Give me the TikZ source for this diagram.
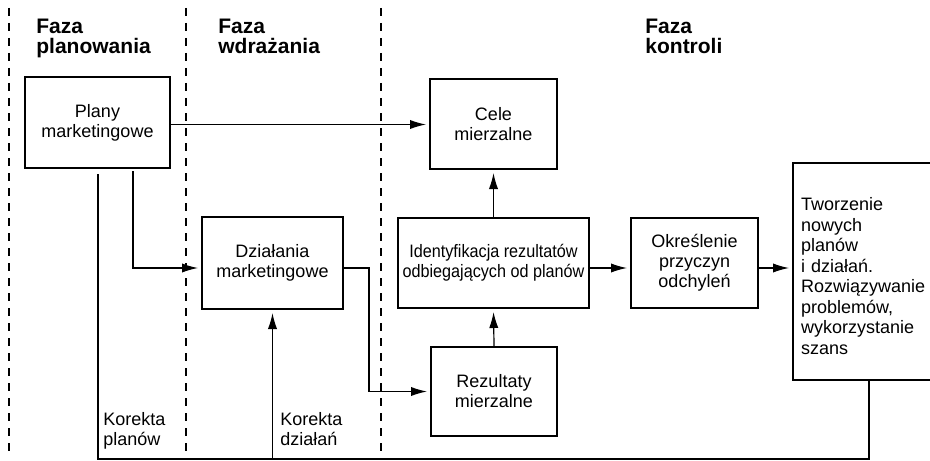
\documentclass[tikz,border=0pt]{standalone}
\usepackage{fontspec}
\setmainfont{Liberation Sans}
\newfontfamily\narrowfont[FakeStretch=0.9]{Liberation Sans}
\usetikzlibrary{positioning,calc,arrows.meta}
\tikzset{font=\fontsize{9}{10}\selectfont}
\tikzset{
box/.style = {draw, line width=1pt, align=center, inner sep=0pt},
heading/.style = {align=left, anchor=north west, inner sep=0pt, font=\fontsize{10.5}{10}\selectfont\bfseries},
note/.style = {align=left, anchor=north west, inner sep=0pt},
arrow/.style = {->, line width=0.6pt, shorten >=1.5pt},
fbline/.style = {line width=1pt},
phaseline/.style = {dash pattern=on 4pt off 3.5pt, line width=1pt}
}

\begin{document}
\begin{tikzpicture}[x=0.5pt, y=-0.5pt, >={Latex[length=8pt,width=4.6pt]}]
	\useasboundingbox (0,0) rectangle (930,460);

	% phase borders
	\foreach \x in {9,186,381}
		\draw[phaseline] (\x,8) -- (\x,453);

	\node[heading] (hplan) at (36,19) {Faza\\planowania};
	\node[heading] (hwdr) at (218,19) {Faza\\wdrażania};
	\node[heading] (hkon) at (645,19) {Faza\\kontroli};

	\node[box, minimum width=72.5pt, minimum height=45.5pt] (plany) at (97.5,122.5) {Plany\\marketingowe};
	\node[box, minimum width=63.5pt, minimum height=45pt] (cele) at (493.5,124) {Cele\\mierzalne};
	\node[box, minimum width=70.5pt, minimum height=46pt] (dzial) at (272.5,263) {Działania\\marketingowe};
	\node[box, minimum width=95.5pt, minimum height=45pt, font=\fontsize{9}{10}\selectfont\narrowfont] (ident) at (493.5,263) {Identyfikacja rezultatów\\odbiegających od planów};
	\node[box, minimum width=63.5pt, minimum height=45pt] (okr) at (694.5,263) {Określenie\\przyczyn\\odchyleń};
	\node[box, minimum width=63pt, minimum height=44.5pt] (rez) at (494,391.5) {Rezultaty\\mierzalne};
	\node[box, anchor=north west, align=left, text width=80pt, inner xsep=4pt, minimum height=108.5pt, font=\fontsize{9}{10.25}\selectfont] (tworz) at (792,162) {\rule{0pt}{11pt}Tworzenie\\nowych\\planów\\i działań.\\Rozwiązywanie\\problemów,\\wykorzystanie\\szans};

	\node[note] (kplan) at (103,412) {Korekta\\planów};
	\node[note] (kdzial) at (280,412) {Korekta\\działań};

	\coordinate (floor) at (0,459);

	\draw[arrow] ([yshift=-1pt]plany.east) -- ([yshift=-1pt]plany.east -| cele.west);
	\draw[arrow] ([xshift=17.75pt, yshift=-1pt]plany.south) |- ([yshift=-2.5pt]dzial.west);
	\draw[arrow] ([yshift=-2.5pt]dzial.east) -- ++(25,0) |- (rez.west);
	\draw[arrow] (rez.north) -- (ident.south);
	\draw[arrow] (ident.north) -- (cele.south);
	\draw[arrow] ([yshift=-2.5pt]ident.east) -- ([yshift=-2.5pt]ident.east -| okr.west);
	\draw[arrow] ([yshift=-2.5pt]okr.east) -- ([yshift=-2.5pt]okr.east -| tworz.west);
	\draw[fbline] ([xshift=38.5pt]tworz.south west) |- (floor -| plany.south) -- ([yshift=-2.5pt]plany.south);
	\draw[arrow] (floor -| dzial.south) -- (dzial.south);

\end{tikzpicture}
\end{document}
